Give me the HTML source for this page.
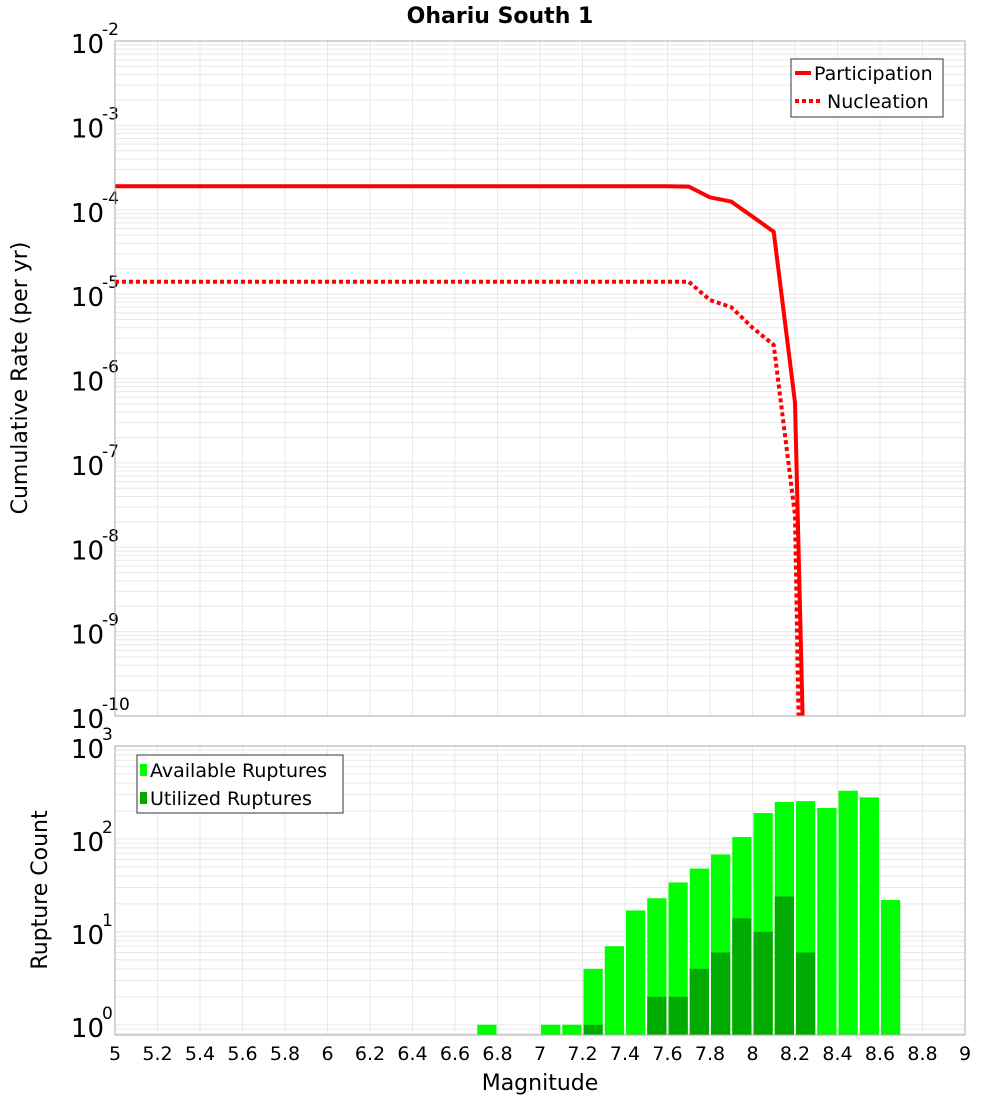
<!DOCTYPE html>
<html><head><meta charset="utf-8"><style>
body{margin:0;background:#fff;font-family:"Liberation Sans","DejaVu Sans",sans-serif}
svg{display:block}
</style></head><body>
<svg id="c" width="1000" height="1100" viewBox="0 0 1000 1100" xmlns="http://www.w3.org/2000/svg" font-family="DejaVu Sans, Liberation Sans, sans-serif">
<text x="500" y="23" text-anchor="middle" font-size="22" font-weight="bold">Ohariu South 1</text>
<g id="topPanel"></g>
<g id="botPanel"></g>
<text x="27" y="378" font-size="22" text-anchor="middle" transform="rotate(-90 27 378)">Cumulative Rate (per yr)</text>
<text x="47" y="890" font-size="22" text-anchor="middle" transform="rotate(-90 47 890)">Rupture Count</text>
<text x="540" y="1090" font-size="22" text-anchor="middle">Magnitude</text>
</svg>
<script>
const partMags=[5.0,7.6,7.7,7.8,7.9,8.0,8.1,8.2,8.3];
const partRates=[1.9e-4,1.9e-4,1.88e-4,1.4e-4,1.25e-4,8.3e-5,5.5e-5,5.2e-7,2e-17];
const nuclMags=[5.0,7.6,7.7,7.8,7.9,8.0,8.1,8.2,8.3];
const nuclRates=[1.4e-5,1.4e-5,1.4e-5,8.5e-6,7e-6,4e-6,2.5e-6,2.4e-8,1.5e-22];
const binStarts=[6.7,7.0,7.1,7.2,7.3,7.4,7.5,7.6,7.7,7.8,7.9,8.0,8.1,8.2,8.3,8.4,8.5,8.6];
const availCounts=[1,1,1,4,7,17,23,34,48,68,105,190,250,255,215,330,280,22];
const usedCounts=[0,0,0,1,0,0,2,2,4,6,14,10,24,6,0,0,0,0];
const xTicks=[5,5.2,5.4,5.6,5.8,6,6.2,6.4,6.6,6.8,7,7.2,7.4,7.6,7.8,8,8.2,8.4,8.6,8.8,9];

const NS="http://www.w3.org/2000/svg";
const L=115,R=965;
const X=m=>L+(m-5)/4*(R-L);
const T0=41,T1=716;
const Yt=v=>T0+(-2-Math.log10(v))/8*(T1-T0);
const B0=746,B1=1035;
const BL=-0.11;
const Yb=v=>B0+(3-Math.log10(v))/(3-BL)*(B1-B0);
function el(p,t,a){const e=document.createElementNS(NS,t);for(const k in a)e.setAttribute(k,a[k]);p.appendChild(e);return e;}
const topG=document.getElementById('topPanel'),botG=document.getElementById('botPanel');

function grid(g,y0,y1,ymap,dmin,dmax){
  for(let d=dmin;d<dmax;d++)for(let k=1;k<10;k++){
    const y=ymap(k*Math.pow(10,d));
    if(y<y0||y>y1)continue;
    const ln=el(g,'line',{x1:L,x2:R,y1:y,y2:y,stroke:'#e8e8e8','stroke-width':1});
    
    
  }
  xTicks.forEach(m=>{const ln=el(g,'line',{x1:X(m),x2:X(m),y1:y0,y2:y1,stroke:'#e8e8e8','stroke-width':1});
    
    });
}
grid(topG,T0,T1,Yt,-10,-2);
grid(botG,B0,B1,Yb,-1,3);

for(let e=-2;e>=-10;e--){
  const y=Yt(Math.pow(10,e));
  const t=el(topG,'text',{x:104,y:y+12,'font-size':26,'text-anchor':'end'});
  
  
  t.textContent='10';
  const s=el(topG,'text',{x:102,y:y-6,'font-size':17});
  
  
  s.textContent=String(e);
}
for(let e=3;e>=0;e--){
  const y=Yb(Math.pow(10,e));
  const t=el(botG,'text',{x:104,y:y+12,'font-size':26,'text-anchor':'end'});
  
  
  t.textContent='10';
  const s=el(botG,'text',{x:102,y:y-6,'font-size':17});
  
  
  s.textContent=String(e);
}
xTicks.forEach(m=>{const t=el(botG,'text',{x:X(m),y:1060,'font-size':19,'text-anchor':'middle'});
  
  
  t.textContent=String(m);});

const cp=el(topG,'clipPath',{id:'cpt'});el(cp,'rect',{x:L,y:T0,width:R-L,height:T1-T0});
function line(ms,vs,dash,name){
  const d=ms.map((m,i)=>(i?'L':'M')+X(m).toFixed(1)+','+Yt(vs[i]).toFixed(1)).join('');
  const a={d:d,fill:'none',stroke:'#ff0000','stroke-width':4,'clip-path':'url(#cpt)','stroke-linejoin':'miter'};
  if(dash)a['stroke-dasharray']='4,3';
  const p=el(topG,'path',a);
  
  
}
line(partMags,partRates,false,'participation-line');
line(nuclMags,nuclRates,true,'nucleation-line');
const fr=el(topG,'rect',{x:L,y:T0,width:R-L,height:T1-T0,fill:'none',stroke:'#aaa'});



const cb=el(botG,'clipPath',{id:'cpb'});el(cb,'rect',{x:L,y:B0,width:R-L,height:B1-B0});
binStarts.forEach((m,i)=>{
  const x0=X(m)+1,w=X(m+0.1)-X(m)-2;
  const y=Yb(availCounts[i]);
  const r=el(botG,'rect',{x:x0,y:y,width:w,height:B1-y,fill:'#00ff00','clip-path':'url(#cpb)'});
  
  
  if(usedCounts[i]>0){const yu=Yb(usedCounts[i]);
    const r2=el(botG,'rect',{x:x0,y:yu,width:w,height:B1-yu,fill:'#00aa00','clip-path':'url(#cpb)'});
    
    }
});
const fb=el(botG,'rect',{x:L,y:B0,width:R-L,height:B1-B0,fill:'none',stroke:'#aaa'});


</script>
<svg style="position:absolute;left:0;top:0" width="1000" height="1100">
<g>
<rect x="791" y="59" width="152" height="58" fill="#fff" stroke="#333"/>
<line x1="795" y1="73" x2="811" y2="73" stroke="#f00" stroke-width="4"/>
<text x="814" y="80" font-size="19" font-family="DejaVu Sans, sans-serif">Participation</text>
<line x1="795" y1="101" x2="820" y2="101" stroke="#f00" stroke-width="4" stroke-dasharray="4,3"/>
<text x="827" y="108" font-size="19" font-family="DejaVu Sans, sans-serif">Nucleation</text>
</g>
<g>
<rect x="137" y="755" width="206" height="58" fill="#fff" stroke="#333"/>
<rect x="140" y="764" width="7" height="12" fill="#00ff00"/>
<text x="150" y="777" font-size="19" font-family="DejaVu Sans, sans-serif">Available Ruptures</text>
<rect x="140" y="792" width="7" height="12" fill="#00aa00"/>
<text x="150" y="805" font-size="19" font-family="DejaVu Sans, sans-serif">Utilized Ruptures</text>
</g>
</svg>
</body></html>
